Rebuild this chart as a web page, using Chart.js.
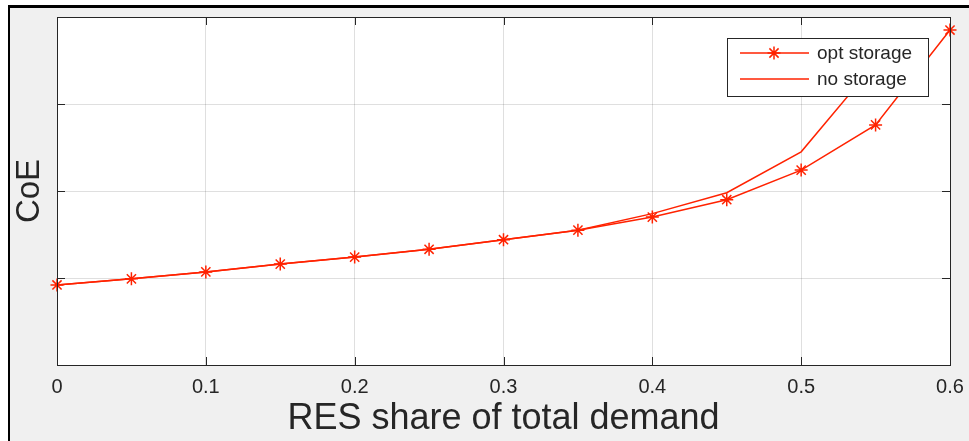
<!DOCTYPE html>
<html lang="en">
<head>
    <meta charset="UTF-8">
    <title>CoE vs RES share</title>
    <script src="https://cdn.jsdelivr.net/npm/chart.js"></script>
    <style>
        body { margin: 0; background: #fff; }
        #wrap { position: relative; width: 969px; height: 441px; overflow: hidden; }
        #frame {
            position: absolute; left: 8px; top: 5px; right: 0; bottom: 0;
            background: #f0f0f0;
            border-top: 3px solid #000;
            border-left: 2px solid #000;
        }
        #coeChart { position: absolute; left: 0; top: 0; }
    </style>
</head>
<body>
    <div id="wrap">
        <div id="frame"></div>
        <canvas id="coeChart" width="969" height="441"></canvas>
    </div>

    <script>
        // RES share on x, CoE (no unit shown) on y
        const shares = [0, 0.05, 0.1, 0.15, 0.2, 0.25, 0.3, 0.35, 0.4, 0.45, 0.5, 0.55, 0.6];
        const optStorage = [0.92, 0.99, 1.07, 1.16, 1.24, 1.33, 1.44, 1.55, 1.70, 1.90, 2.24, 2.76, 3.85];
        const noStorage = [0.92, 0.99, 1.07, 1.16, 1.24, 1.33, 1.44, 1.55, 1.74, 1.98, 2.45, 3.47, null];
        const seriesNames = ["opt storage", "no storage"];

        const red = "#ff2200";
        const axisGray = "#262626";
        const gridGray = "rgba(38, 38, 38, 0.15)";

        Chart.defaults.font.family = '"Liberation Sans", Arial, sans-serif';
        Chart.defaults.color = axisGray;

        // white plot box, inward ticks on all four sides, boxed legend (matlab look)
        const matlabAxes = {
            id: "matlabAxes",
            beforeDraw(chart) {
                const { ctx, chartArea: a } = chart;
                ctx.save();
                ctx.fillStyle = "#fff";
                ctx.fillRect(a.left, a.top, a.right - a.left, a.bottom - a.top);
                ctx.restore();
            },
            afterDatasetsDraw(chart) {
                const { ctx, chartArea: a, scales } = chart;
                const len = 8;
                ctx.save();
                ctx.strokeStyle = axisGray;
                ctx.lineWidth = 1;
                ctx.beginPath();
                scales.x.ticks.forEach(t => {
                    const px = Math.round(scales.x.getPixelForValue(t.value)) + 0.5;
                    ctx.moveTo(px, a.bottom); ctx.lineTo(px, a.bottom - len);
                    ctx.moveTo(px, a.top); ctx.lineTo(px, a.top + len);
                });
                scales.y.ticks.forEach(t => {
                    const py = Math.round(scales.y.getPixelForValue(t.value)) + 0.5;
                    ctx.moveTo(a.left, py); ctx.lineTo(a.left + len, py);
                    ctx.moveTo(a.right, py); ctx.lineTo(a.right - len, py);
                });
                ctx.stroke();
                ctx.strokeRect(Math.round(a.left) + 0.5, Math.round(a.top) + 0.5,
                    Math.round(a.right - a.left), Math.round(a.bottom - a.top));
                ctx.restore();
            },
            afterDraw(chart) {
                const { ctx, chartArea: a } = chart;
                const boxW = 201, boxH = 58;
                const bx = a.right - 22 - boxW, by = a.top + 21;
                ctx.save();
                ctx.fillStyle = "#fff";
                ctx.fillRect(bx, by, boxW, boxH);
                ctx.strokeStyle = axisGray;
                ctx.lineWidth = 1;
                ctx.strokeRect(bx + 0.5, by + 0.5, boxW, boxH);
                ctx.font = '19px "Liberation Sans", Arial, sans-serif';
                ctx.textBaseline = "middle";
                chart.data.datasets.forEach((ds, i) => {
                    const y = by + 15 + i * 26;
                    ctx.strokeStyle = ds.borderColor;
                    ctx.lineWidth = ds.borderWidth;
                    ctx.beginPath();
                    ctx.moveTo(bx + 13, y); ctx.lineTo(bx + 82, y);
                    ctx.stroke();
                    if (ds.pointRadius > 0) {
                        Chart.helpers.drawPoint(ctx, {
                            pointStyle: ds.pointStyle, radius: ds.pointRadius,
                            rotation: 0, borderWidth: ds.pointBorderWidth
                        }, bx + 47, y);
                    }
                    ctx.fillStyle = axisGray;
                    ctx.fillText(ds.label, bx + 90, y + 1);
                });
                ctx.restore();
            }
        };

        const toPoints = ys => shares.map((x, i) => ({ x: x, y: ys[i] }));

        new Chart(document.getElementById("coeChart"), {
            type: "line",
            data: {
                datasets: [{
                    label: seriesNames[0],
                    data: toPoints(optStorage),
                    borderColor: red,
                    backgroundColor: red,
                    borderWidth: 1.5,
                    pointStyle: "star",
                    pointRadius: 6.5,
                    pointBorderWidth: 1.5,
                    pointBorderColor: red,
                    clip: false
                }, {
                    label: seriesNames[1],
                    data: toPoints(noStorage),
                    borderColor: red,
                    backgroundColor: red,
                    borderWidth: 1.5,
                    pointRadius: 0
                }]
            },
            options: {
                responsive: false,
                animation: false,
                layout: { padding: { top: 17, right: 19, left: 0, bottom: 0 } },
                plugins: { legend: { display: false }, tooltip: { enabled: false } },
                scales: {
                    x: {
                        type: "linear", min: 0, max: 0.6,
                        ticks: { stepSize: 0.1, padding: 10, maxRotation: 0, font: { size: 20 } },
                        grid: { color: gridGray, drawTicks: false },
                        border: { display: false },
                        title: { display: true, text: "RES share of total demand", font: { size: 36 }, padding: 0 },
                        afterFit: s => { s.height = 76; s.paddingLeft = 0; s.paddingRight = 0; }
                    },
                    y: {
                        min: 0, max: 4,
                        ticks: { stepSize: 1, display: false },
                        grid: { color: gridGray, drawTicks: false },
                        border: { display: false },
                        title: { display: true, text: "CoE", font: { size: 33 }, padding: { top: 10, bottom: 0 } },
                        afterFit: s => { s.width = 57; }
                    }
                }
            },
            plugins: [matlabAxes]
        });
    </script>
</body>
</html>
